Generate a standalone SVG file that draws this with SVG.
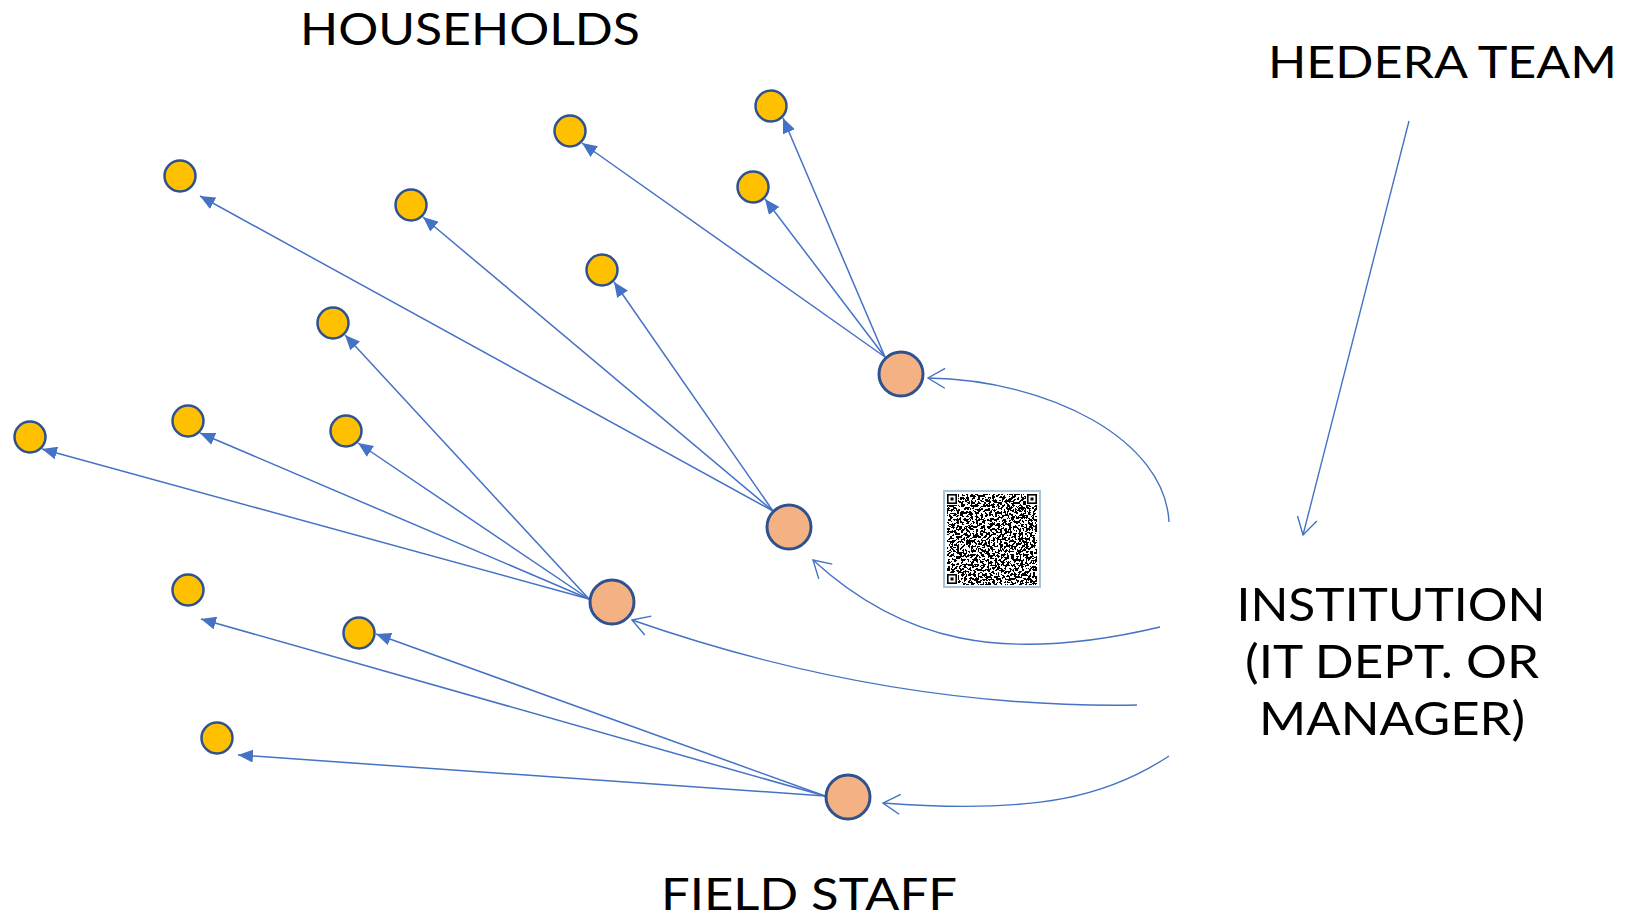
<svg xmlns="http://www.w3.org/2000/svg" width="1627" height="920" viewBox="0 0 1627 920">
  <style>
    .hh { fill: #FFC000; stroke: #2F528F; stroke-width: 2.5; }
    .fs { fill: #F4B183; stroke: #2F528F; stroke-width: 3; }
    .edge { fill: none; stroke: #4472C4; stroke-width: 1.5; marker-end: url(#tri); }
    .flow { fill: none; stroke: #4472C4; stroke-width: 1.4; marker-end: url(#open); }
    .lbl { font-family: Lato, "Liberation Sans", sans-serif; fill: #000; }
  </style>
  <defs>
    <marker id="tri" viewBox="0 0 15 13" refX="15" refY="6.5" markerWidth="15" markerHeight="13" markerUnits="userSpaceOnUse" orient="auto">
      <path d="M0,0 L15,6.5 L0,13 z" fill="#4472C4"/>
    </marker>
    <marker id="open" viewBox="-19 -11 21 22" refX="0" refY="0" markerWidth="21" markerHeight="22" markerUnits="userSpaceOnUse" orient="auto">
      <path d="M-17,-10 L0,0 L-17,10" fill="none" stroke="#4472C4" stroke-width="1.4"/>
    </marker>
    <filter id="qrNoise" x="0" y="0" width="1" height="1" color-interpolation-filters="sRGB">
      <feTurbulence type="fractalNoise" baseFrequency="0.42" numOctaves="2" seed="11" result="n"/>
      <feColorMatrix in="n" type="matrix" values="1 0 0 0 0  1 0 0 0 0  1 0 0 0 0  0 0 0 0 1"/>
      <feComponentTransfer>
        <feFuncR type="discrete" tableValues="0 1"/>
        <feFuncG type="discrete" tableValues="0 1"/>
        <feFuncB type="discrete" tableValues="0 1"/>
      </feComponentTransfer>
    </filter>
  </defs>

  <rect width="1627" height="920" fill="#FFFFFF"/>

  <!-- labels -->
  <g id="labels" class="lbl">
    <text x="300" y="45" font-size="45" textLength="340" lengthAdjust="spacingAndGlyphs">HOUSEHOLDS</text>
    <text x="1268" y="78" font-size="45" textLength="349" lengthAdjust="spacingAndGlyphs">HEDERA TEAM</text>
    <text x="1391" y="621" font-size="47" text-anchor="middle" textLength="309" lengthAdjust="spacingAndGlyphs">INSTITUTION</text>
    <text x="1392" y="678" font-size="47" text-anchor="middle" textLength="294" lengthAdjust="spacingAndGlyphs">(IT DEPT. OR</text>
    <text x="1392" y="735" font-size="47" text-anchor="middle" textLength="266" lengthAdjust="spacingAndGlyphs">MANAGER)</text>
    <text x="661" y="910" font-size="45" textLength="296" lengthAdjust="spacingAndGlyphs">FIELD STAFF</text>
  </g>

  <!-- QR code badge -->
  <g id="qr">
    <rect x="944" y="491" width="96" height="96" fill="#FFFFFF" stroke="#A6C2D4" stroke-width="2"/>
    <rect x="947" y="494" width="90" height="91" fill="#000" filter="url(#qrNoise)"/>
    <rect x="946" y="493" width="12" height="12" fill="#FFFFFF"/>
    <rect x="1026" y="493" width="12" height="12" fill="#FFFFFF"/>
    <rect x="946" y="573" width="12" height="12" fill="#FFFFFF"/>
    <g fill="none" stroke="#000" stroke-width="1.6">
      <rect x="947.8" y="494.8" width="8.4" height="8.4"/>
      <rect x="1027.8" y="494.8" width="8.4" height="8.4"/>
      <rect x="947.8" y="574.8" width="8.4" height="8.4"/>
    </g>
    <g fill="#000">
      <rect x="950.5" y="497.5" width="3" height="3"/>
      <rect x="1030.5" y="497.5" width="3" height="3"/>
      <rect x="950.5" y="577.5" width="3" height="3"/>
    </g>
  </g>

  <!-- connectors -->
  <g id="connectors">
    <!-- field staff to households -->
    <line class="edge" x1="885" y1="357" x2="783" y2="118"/>
    <line class="edge" x1="885" y1="357" x2="582" y2="143"/>
    <line class="edge" x1="885" y1="357" x2="765" y2="199"/>
    <line class="edge" x1="773" y1="511" x2="200" y2="196"/>
    <line class="edge" x1="773" y1="511" x2="423" y2="217"/>
    <line class="edge" x1="773" y1="511" x2="614" y2="282"/>
    <line class="edge" x1="589" y1="599" x2="345" y2="335"/>
    <line class="edge" x1="589" y1="599" x2="42" y2="449"/>
    <line class="edge" x1="589" y1="599" x2="200" y2="433"/>
    <line class="edge" x1="589" y1="599" x2="358" y2="443"/>
    <line class="edge" x1="825" y1="796" x2="201" y2="619"/>
    <line class="edge" x1="825" y1="796" x2="376" y2="634"/>
    <line class="edge" x1="825" y1="796" x2="238" y2="755"/>
    <!-- institution to field staff -->
    <path class="flow" d="M1169,522 C1165,440 1050,380 928,378"/>
    <path class="flow" d="M1160,627 C1000,665 900,640 813,560"/>
    <path class="flow" d="M1137,705 C960,708 790,675 632,620"/>
    <path class="flow" d="M1169,756 C1110,795 1040,815 883,803"/>
    <!-- hedera team to institution -->
    <path class="flow" d="M1409,121 L1303,535"/>
  </g>

  <!-- field staff nodes -->
  <g id="staff-a"><circle class="fs" cx="901" cy="374" r="22"/></g>
  <g id="staff-b"><circle class="fs" cx="789" cy="527" r="22"/></g>
  <g id="staff-c"><circle class="fs" cx="612" cy="602" r="22"/></g>
  <g id="staff-d"><circle class="fs" cx="848" cy="797" r="22"/></g>

  <!-- household nodes -->
  <g id="hh-1"><circle class="hh" cx="771" cy="106" r="15.5"/></g>
  <g id="hh-2"><circle class="hh" cx="570" cy="131" r="15.5"/></g>
  <g id="hh-3"><circle class="hh" cx="753" cy="187" r="15.5"/></g>
  <g id="hh-4"><circle class="hh" cx="180" cy="176" r="15.5"/></g>
  <g id="hh-5"><circle class="hh" cx="411" cy="205" r="15.5"/></g>
  <g id="hh-6"><circle class="hh" cx="602" cy="270" r="15.5"/></g>
  <g id="hh-7"><circle class="hh" cx="333" cy="323" r="15.5"/></g>
  <g id="hh-8"><circle class="hh" cx="30" cy="437" r="15.5"/></g>
  <g id="hh-9"><circle class="hh" cx="188" cy="421" r="15.5"/></g>
  <g id="hh-10"><circle class="hh" cx="346" cy="431" r="15.5"/></g>
  <g id="hh-11"><circle class="hh" cx="188" cy="590" r="15.5"/></g>
  <g id="hh-12"><circle class="hh" cx="359" cy="633" r="15.5"/></g>
  <g id="hh-13"><circle class="hh" cx="217" cy="738" r="15.5"/></g>
</svg>
